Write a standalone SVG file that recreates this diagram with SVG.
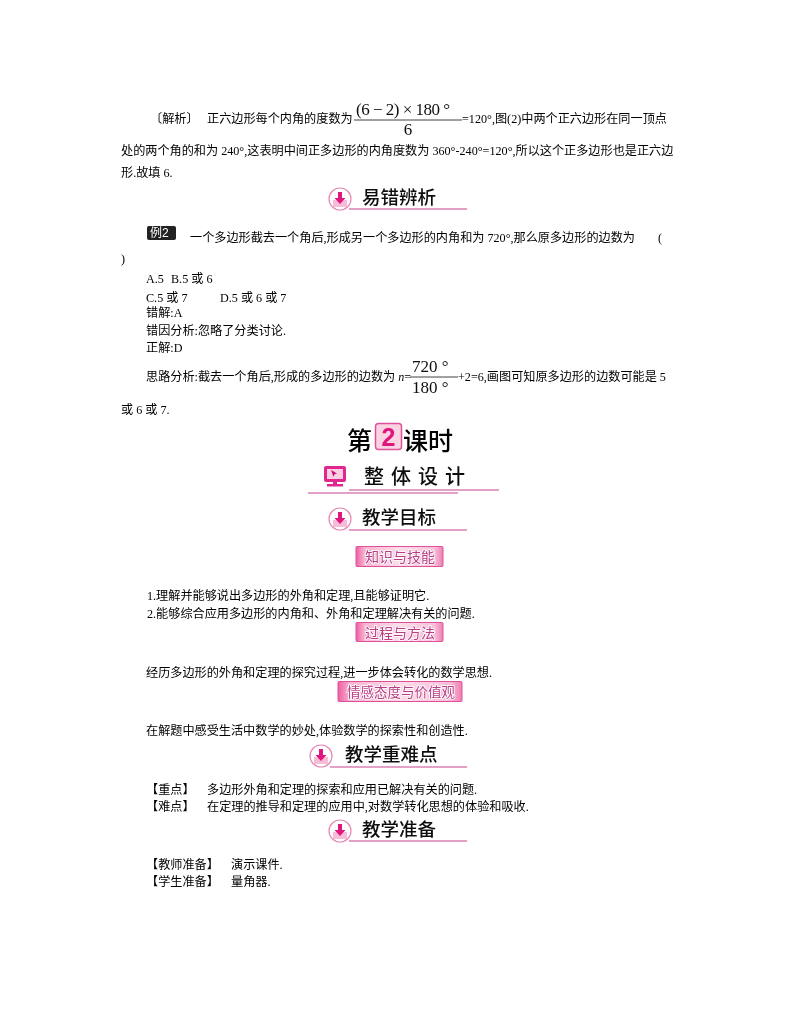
<svg xmlns="http://www.w3.org/2000/svg" width="800" height="1028" viewBox="0 0 800 1028">
<style>
text{font-family:"Liberation Serif","Noto Sans CJK SC",serif;fill:#000}
.b{font-size:12.15px}
.m{font-size:17px;font-family:"Liberation Serif",serif;fill:#111}
.h{font-family:"Noto Sans CJK SC","Noto Sans",sans-serif;font-size:18.5px;font-weight:500;fill:#111}
.t{font-family:"Noto Sans CJK SC","Noto Sans",sans-serif;fill:#b83d85;stroke:#fff;stroke-width:1.6px;paint-order:stroke}
.l{stroke:#c9408f;stroke-width:1.2;fill:none}
.r{stroke:#444;stroke-width:1;fill:none}
.tag{fill:url(#tg);stroke:#e0509a;stroke-width:1}
</style>
<defs>
<linearGradient id="tg" x1="0" y1="0" x2="1" y2="0"><stop offset="0" stop-color="#ee5fa3"/><stop offset=".1" stop-color="#f8b4d1"/><stop offset=".5" stop-color="#fcdde9"/><stop offset=".9" stop-color="#f9c0d8"/><stop offset="1" stop-color="#ee7fb2"/></linearGradient>
<filter id="soft" x="0" y="0" width="1" height="1"><feGaussianBlur stdDeviation="0.3"/></filter>
<g id="ic">
<circle cx="0" cy="0" r="11" fill="#fff" stroke="#e58ab8" stroke-width="1.2"/>
<rect x="-7" y="1" width="14" height="7" fill="#f8bcd6"/>
<path d="M-2-7H2V-1H5.500L0 5-5.500-1H-2Z" fill="#e0127f"/>
</g>
</defs>
<rect width="800" height="1028" fill="#fff"/>
<g filter="url(#soft)">
<g id="para-analysis">
<text class="b" x="150" y="123">〔解析〕</text>
<text class="b" x="207" y="123">正六边形每个内角的度数为</text>
<text class="m" x="356" y="115" textLength="94">(6 − 2) × 180 °</text>
<path class="r" d="M354 120H462"/>
<text class="m" x="408" y="135" text-anchor="middle">6</text>
<text class="b" x="462" y="123">=120°,图(2)中两个正六边形在同一顶点</text>
<text class="b" x="121" y="155">处的两个角的和为 240°,这表明中间正多边形的内角度数为 360°-240°=120°,所以这个正多边形也是正六边</text>
<text class="b" x="121" y="177">形.故填 6.</text>
</g>
<g id="head-yicuo">
<use href="#ic" x="340" y="199"/><path class="l" d="M349 209H467"/>
<text class="h" x="362" y="204">易错辨析</text>
</g>
<g id="example2">
<rect x="147" y="226" width="29" height="14" rx="2" fill="#222"/>
<text x="150" y="237" font-size="12" style="fill:#fff;font-family:'Liberation Sans','Noto Sans CJK SC',sans-serif">例2</text>
<text class="b" x="190" y="242">一个多边形截去一个角后,形成另一个多边形的内角和为 720°,那么原多边形的边数为</text>
<text class="b" x="658" y="242">(</text>
<text class="b" x="121" y="263">)</text>
<text class="b" x="146" y="283">A.5</text><text class="b" x="171" y="283">B.5 或 6</text>
<text class="b" x="146" y="302">C.5 或 7</text>
<text class="b" x="220" y="302">D.5 或 6 或 7</text>
<text class="b" x="146" y="317">错解:A</text>
<text class="b" x="146" y="335">错因分析:忽略了分类讨论.</text>
<text class="b" x="146" y="352">正解:D</text>
<text class="b" x="146" y="381">思路分析:截去一个角后,形成的多边形的边数为 <tspan font-style="italic">n</tspan>=</text>
<text class="m" x="412" y="372">720 °</text>
<path class="r" d="M410 377H458"/>
<text class="m" x="412" y="393">180 °</text>
<text class="b" x="458" y="381">+2=6,画图可知原多边形的边数可能是 5</text>
<text class="b" x="121" y="414">或 6 或 7.</text>
</g>
<g id="lesson-title">
<text x="347" y="450" font-size="25" font-weight="500" style="font-family:'Noto Sans CJK SC',sans-serif">第</text>
<rect x="375.500" y="423.500" width="26" height="26" rx="3" fill="#fbd3e3" stroke="#e0509a" stroke-width="1.500"/>
<text x="388.500" y="446" font-size="25" font-weight="bold" text-anchor="middle" style="fill:#e0127f;font-family:'Liberation Sans',sans-serif">2</text>
<text x="403" y="450" font-size="25" font-weight="500" style="font-family:'Noto Sans CJK SC',sans-serif">课时</text>
</g>
<g id="head-design">
<rect x="324" y="466" width="22" height="16" rx="2" fill="#e0288f"/>
<rect x="327" y="469" width="16" height="10" fill="#f9cfe1"/>
<path d="M331 470l6 3.500-2.500 .800-1 2.500Z" fill="#c0107a"/>
<rect x="333" y="482" width="4" height="2" fill="#e0288f"/>
<rect x="327" y="484" width="16" height="2.500" fill="#e0288f"/>
<text class="h" x="364" y="484" style="font-size:20px;letter-spacing:7px">整体设计</text>
<path class="l" d="M349 490H499M308 493H458"/>
</g>
<g id="head-goal">
<use href="#ic" x="340" y="519"/><path class="l" d="M349 530H467"/>
<text class="h" x="362" y="524">教学目标</text>
</g>
<g id="tag-skill">
<rect class="tag" x="356" y="546.500" width="87" height="20" rx="1"/>
<text class="t" x="365" y="562" font-size="14">知识与技能</text>
</g>
<g id="goals-1">
<text class="b" x="147" y="600">1.理解并能够说出多边形的外角和定理,且能够证明它.</text>
<text class="b" x="147" y="618">2.能够综合应用多边形的内角和、外角和定理解决有关的问题.</text>
</g>
<g id="tag-process">
<rect class="tag" x="356" y="622.500" width="87" height="19" rx="1"/>
<text class="t" x="365" y="637.500" font-size="14">过程与方法</text>
</g>
<text class="b" x="146" y="677">经历多边形的外角和定理的探究过程,进一步体会转化的数学思想.</text>
<g id="tag-attitude">
<rect class="tag" x="338" y="681.500" width="124" height="20" rx="1"/>
<text class="t" x="347" y="697" font-size="13.500">情感态度与价值观</text>
</g>
<text class="b" x="146" y="735">在解题中感受生活中数学的妙处,体验数学的探索性和创造性.</text>
<g id="head-key">
<use href="#ic" x="321" y="756"/><path class="l" d="M330 767H467"/>
<text class="h" x="345" y="761">教学重难点</text>
</g>
<g id="key-points">
<text class="b" x="146" y="794">【重点】</text><text class="b" x="207" y="794">多边形外角和定理的探索和应用已解决有关的问题.</text>
<text class="b" x="146" y="811">【难点】</text><text class="b" x="207" y="811">在定理的推导和定理的应用中,对数学转化思想的体验和吸收.</text>
</g>
<g id="head-prep">
<use href="#ic" x="340" y="831"/><path class="l" d="M349 841H467"/>
<text class="h" x="362" y="836">教学准备</text>
</g>
<g id="prep">
<text class="b" x="146" y="869">【教师准备】</text><text class="b" x="231" y="869">演示课件.</text>
<text class="b" x="146" y="886">【学生准备】</text><text class="b" x="231" y="886">量角器.</text>
</g>
</g>
</svg>
